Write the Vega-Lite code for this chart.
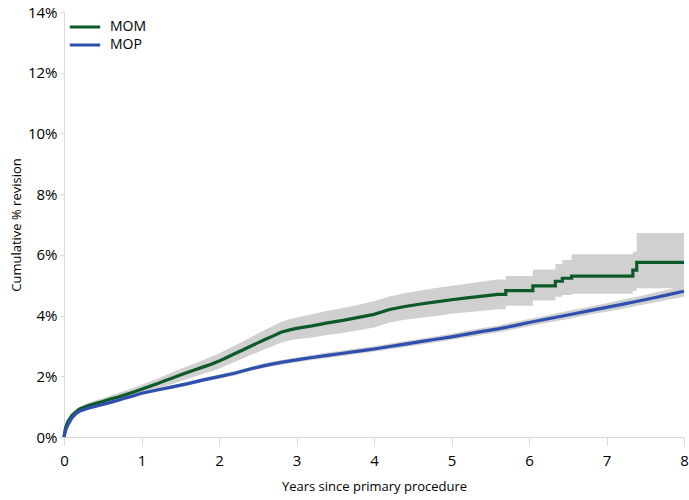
{
  "$schema": "https://vega.github.io/schema/vega-lite/v6.json",
  "width": 620,
  "height": 425,
  "autosize": {"type": "none"},
  "padding": {"left": 64, "top": 12, "right": 5, "bottom": 63},
  "background": "white",
  "config": {"view": {"stroke": null}, "font": "Open Sans"},
  "data": {"values": [
    {"s": "MOM", "i": 0, "t": 0, "v": 0, "lo": 0, "hi": 0},
    {"s": "MOM", "i": 1, "t": 0.02, "v": 0.3, "lo": 0.26, "hi": 0.35},
    {"s": "MOM", "i": 2, "t": 0.05, "v": 0.5, "lo": 0.44, "hi": 0.57},
    {"s": "MOM", "i": 3, "t": 0.1, "v": 0.7, "lo": 0.63, "hi": 0.78},
    {"s": "MOM", "i": 4, "t": 0.15, "v": 0.82, "lo": 0.74, "hi": 0.9},
    {"s": "MOM", "i": 5, "t": 0.2, "v": 0.92, "lo": 0.84, "hi": 1.0},
    {"s": "MOM", "i": 6, "t": 0.3, "v": 1.02, "lo": 0.93, "hi": 1.11},
    {"s": "MOM", "i": 7, "t": 0.4, "v": 1.1, "lo": 1.0, "hi": 1.2},
    {"s": "MOM", "i": 8, "t": 0.5, "v": 1.17, "lo": 1.06, "hi": 1.28},
    {"s": "MOM", "i": 9, "t": 0.6, "v": 1.25, "lo": 1.13, "hi": 1.37},
    {"s": "MOM", "i": 10, "t": 0.7, "v": 1.32, "lo": 1.19, "hi": 1.45},
    {"s": "MOM", "i": 11, "t": 0.8, "v": 1.4, "lo": 1.27, "hi": 1.53},
    {"s": "MOM", "i": 12, "t": 0.9, "v": 1.48, "lo": 1.34, "hi": 1.62},
    {"s": "MOM", "i": 13, "t": 1.0, "v": 1.57, "lo": 1.42, "hi": 1.72},
    {"s": "MOM", "i": 14, "t": 1.1, "v": 1.66, "lo": 1.5, "hi": 1.82},
    {"s": "MOM", "i": 15, "t": 1.2, "v": 1.75, "lo": 1.58, "hi": 1.92},
    {"s": "MOM", "i": 16, "t": 1.3, "v": 1.85, "lo": 1.67, "hi": 2.03},
    {"s": "MOM", "i": 17, "t": 1.4, "v": 1.94, "lo": 1.75, "hi": 2.13},
    {"s": "MOM", "i": 18, "t": 1.5, "v": 2.04, "lo": 1.84, "hi": 2.24},
    {"s": "MOM", "i": 19, "t": 1.6, "v": 2.13, "lo": 1.92, "hi": 2.34},
    {"s": "MOM", "i": 20, "t": 1.7, "v": 2.22, "lo": 2.0, "hi": 2.44},
    {"s": "MOM", "i": 21, "t": 1.8, "v": 2.31, "lo": 2.08, "hi": 2.54},
    {"s": "MOM", "i": 22, "t": 1.9, "v": 2.4, "lo": 2.16, "hi": 2.64},
    {"s": "MOM", "i": 23, "t": 2.0, "v": 2.5, "lo": 2.25, "hi": 2.75},
    {"s": "MOM", "i": 24, "t": 2.1, "v": 2.62, "lo": 2.36, "hi": 2.88},
    {"s": "MOM", "i": 25, "t": 2.2, "v": 2.74, "lo": 2.47, "hi": 3.01},
    {"s": "MOM", "i": 26, "t": 2.3, "v": 2.86, "lo": 2.58, "hi": 3.14},
    {"s": "MOM", "i": 27, "t": 2.4, "v": 2.98, "lo": 2.69, "hi": 3.27},
    {"s": "MOM", "i": 28, "t": 2.5, "v": 3.1, "lo": 2.79, "hi": 3.41},
    {"s": "MOM", "i": 29, "t": 2.6, "v": 3.22, "lo": 2.9, "hi": 3.54},
    {"s": "MOM", "i": 30, "t": 2.7, "v": 3.33, "lo": 3.0, "hi": 3.66},
    {"s": "MOM", "i": 31, "t": 2.8, "v": 3.45, "lo": 3.11, "hi": 3.79},
    {"s": "MOM", "i": 32, "t": 2.9, "v": 3.52, "lo": 3.17, "hi": 3.87},
    {"s": "MOM", "i": 33, "t": 3.0, "v": 3.58, "lo": 3.22, "hi": 3.94},
    {"s": "MOM", "i": 34, "t": 3.2, "v": 3.66, "lo": 3.28, "hi": 4.04},
    {"s": "MOM", "i": 35, "t": 3.4, "v": 3.76, "lo": 3.36, "hi": 4.16},
    {"s": "MOM", "i": 36, "t": 3.6, "v": 3.84, "lo": 3.43, "hi": 4.25},
    {"s": "MOM", "i": 37, "t": 3.8, "v": 3.94, "lo": 3.52, "hi": 4.36},
    {"s": "MOM", "i": 38, "t": 4.0, "v": 4.04, "lo": 3.61, "hi": 4.47},
    {"s": "MOM", "i": 39, "t": 4.2, "v": 4.2, "lo": 3.77, "hi": 4.63},
    {"s": "MOM", "i": 40, "t": 4.4, "v": 4.3, "lo": 3.86, "hi": 4.74},
    {"s": "MOM", "i": 41, "t": 4.6, "v": 4.38, "lo": 3.93, "hi": 4.83},
    {"s": "MOM", "i": 42, "t": 4.8, "v": 4.45, "lo": 3.99, "hi": 4.91},
    {"s": "MOM", "i": 43, "t": 5.0, "v": 4.52, "lo": 4.06, "hi": 4.98},
    {"s": "MOM", "i": 44, "t": 5.2, "v": 4.58, "lo": 4.11, "hi": 5.05},
    {"s": "MOM", "i": 45, "t": 5.4, "v": 4.64, "lo": 4.16, "hi": 5.12},
    {"s": "MOM", "i": 46, "t": 5.6, "v": 4.7, "lo": 4.21, "hi": 5.19},
    {"s": "MOM", "i": 47, "t": 5.7, "v": 4.7, "lo": 4.21, "hi": 5.19},
    {"s": "MOM", "i": 48, "t": 5.7, "v": 4.82, "lo": 4.32, "hi": 5.3},
    {"s": "MOM", "i": 49, "t": 6.05, "v": 4.82, "lo": 4.32, "hi": 5.3},
    {"s": "MOM", "i": 50, "t": 6.05, "v": 4.98, "lo": 4.5, "hi": 5.52},
    {"s": "MOM", "i": 51, "t": 6.34, "v": 4.98, "lo": 4.5, "hi": 5.52},
    {"s": "MOM", "i": 52, "t": 6.34, "v": 5.13, "lo": 4.62, "hi": 5.7},
    {"s": "MOM", "i": 53, "t": 6.43, "v": 5.13, "lo": 4.62, "hi": 5.7},
    {"s": "MOM", "i": 54, "t": 6.43, "v": 5.23, "lo": 4.68, "hi": 5.83},
    {"s": "MOM", "i": 55, "t": 6.55, "v": 5.23, "lo": 4.68, "hi": 5.83},
    {"s": "MOM", "i": 56, "t": 6.55, "v": 5.3, "lo": 4.72, "hi": 6.02},
    {"s": "MOM", "i": 57, "t": 7.34, "v": 5.3, "lo": 4.72, "hi": 6.02},
    {"s": "MOM", "i": 58, "t": 7.34, "v": 5.5, "lo": 4.82, "hi": 6.1},
    {"s": "MOM", "i": 59, "t": 7.39, "v": 5.5, "lo": 4.82, "hi": 6.1},
    {"s": "MOM", "i": 60, "t": 7.39, "v": 5.75, "lo": 4.9, "hi": 6.72},
    {"s": "MOM", "i": 61, "t": 8.0, "v": 5.75, "lo": 4.9, "hi": 6.72},
    {"s": "MOP", "i": 100, "t": 0, "v": 0, "lo": 0, "hi": 0},
    {"s": "MOP", "i": 101, "t": 0.02, "v": 0.22, "lo": 0.2, "hi": 0.24},
    {"s": "MOP", "i": 102, "t": 0.05, "v": 0.4, "lo": 0.37, "hi": 0.43},
    {"s": "MOP", "i": 103, "t": 0.1, "v": 0.62, "lo": 0.59, "hi": 0.65},
    {"s": "MOP", "i": 104, "t": 0.15, "v": 0.76, "lo": 0.73, "hi": 0.79},
    {"s": "MOP", "i": 105, "t": 0.2, "v": 0.85, "lo": 0.82, "hi": 0.88},
    {"s": "MOP", "i": 106, "t": 0.3, "v": 0.94, "lo": 0.9, "hi": 0.98},
    {"s": "MOP", "i": 107, "t": 0.4, "v": 1.01, "lo": 0.97, "hi": 1.05},
    {"s": "MOP", "i": 108, "t": 0.5, "v": 1.07, "lo": 1.03, "hi": 1.11},
    {"s": "MOP", "i": 109, "t": 0.6, "v": 1.14, "lo": 1.1, "hi": 1.18},
    {"s": "MOP", "i": 110, "t": 0.7, "v": 1.21, "lo": 1.16, "hi": 1.26},
    {"s": "MOP", "i": 111, "t": 0.8, "v": 1.29, "lo": 1.24, "hi": 1.34},
    {"s": "MOP", "i": 112, "t": 0.9, "v": 1.36, "lo": 1.31, "hi": 1.41},
    {"s": "MOP", "i": 113, "t": 1.0, "v": 1.44, "lo": 1.38, "hi": 1.5},
    {"s": "MOP", "i": 114, "t": 1.2, "v": 1.55, "lo": 1.49, "hi": 1.61},
    {"s": "MOP", "i": 115, "t": 1.4, "v": 1.65, "lo": 1.59, "hi": 1.71},
    {"s": "MOP", "i": 116, "t": 1.6, "v": 1.76, "lo": 1.7, "hi": 1.82},
    {"s": "MOP", "i": 117, "t": 1.8, "v": 1.88, "lo": 1.81, "hi": 1.95},
    {"s": "MOP", "i": 118, "t": 2.0, "v": 1.99, "lo": 1.92, "hi": 2.06},
    {"s": "MOP", "i": 119, "t": 2.2, "v": 2.1, "lo": 2.03, "hi": 2.17},
    {"s": "MOP", "i": 120, "t": 2.4, "v": 2.24, "lo": 2.17, "hi": 2.31},
    {"s": "MOP", "i": 121, "t": 2.6, "v": 2.36, "lo": 2.28, "hi": 2.44},
    {"s": "MOP", "i": 122, "t": 2.8, "v": 2.46, "lo": 2.38, "hi": 2.54},
    {"s": "MOP", "i": 123, "t": 3.0, "v": 2.54, "lo": 2.46, "hi": 2.62},
    {"s": "MOP", "i": 124, "t": 3.2, "v": 2.62, "lo": 2.54, "hi": 2.7},
    {"s": "MOP", "i": 125, "t": 3.4, "v": 2.69, "lo": 2.6, "hi": 2.78},
    {"s": "MOP", "i": 126, "t": 3.6, "v": 2.76, "lo": 2.67, "hi": 2.85},
    {"s": "MOP", "i": 127, "t": 3.8, "v": 2.83, "lo": 2.74, "hi": 2.92},
    {"s": "MOP", "i": 128, "t": 4.0, "v": 2.9, "lo": 2.81, "hi": 2.99},
    {"s": "MOP", "i": 129, "t": 4.2, "v": 2.98, "lo": 2.89, "hi": 3.07},
    {"s": "MOP", "i": 130, "t": 4.4, "v": 3.06, "lo": 2.96, "hi": 3.16},
    {"s": "MOP", "i": 131, "t": 4.6, "v": 3.14, "lo": 3.04, "hi": 3.24},
    {"s": "MOP", "i": 132, "t": 4.8, "v": 3.22, "lo": 3.12, "hi": 3.32},
    {"s": "MOP", "i": 133, "t": 5.0, "v": 3.3, "lo": 3.2, "hi": 3.4},
    {"s": "MOP", "i": 134, "t": 5.2, "v": 3.39, "lo": 3.28, "hi": 3.5},
    {"s": "MOP", "i": 135, "t": 5.4, "v": 3.48, "lo": 3.37, "hi": 3.59},
    {"s": "MOP", "i": 136, "t": 5.6, "v": 3.56, "lo": 3.45, "hi": 3.67},
    {"s": "MOP", "i": 137, "t": 5.8, "v": 3.66, "lo": 3.54, "hi": 3.78},
    {"s": "MOP", "i": 138, "t": 6.0, "v": 3.77, "lo": 3.65, "hi": 3.89},
    {"s": "MOP", "i": 139, "t": 6.2, "v": 3.87, "lo": 3.75, "hi": 3.99},
    {"s": "MOP", "i": 140, "t": 6.4, "v": 3.97, "lo": 3.84, "hi": 4.1},
    {"s": "MOP", "i": 141, "t": 6.6, "v": 4.07, "lo": 3.94, "hi": 4.2},
    {"s": "MOP", "i": 142, "t": 6.8, "v": 4.17, "lo": 4.04, "hi": 4.3},
    {"s": "MOP", "i": 143, "t": 7.0, "v": 4.27, "lo": 4.13, "hi": 4.41},
    {"s": "MOP", "i": 144, "t": 7.2, "v": 4.37, "lo": 4.22, "hi": 4.52},
    {"s": "MOP", "i": 145, "t": 7.4, "v": 4.47, "lo": 4.32, "hi": 4.62},
    {"s": "MOP", "i": 146, "t": 7.6, "v": 4.58, "lo": 4.42, "hi": 4.74},
    {"s": "MOP", "i": 147, "t": 7.8, "v": 4.69, "lo": 4.52, "hi": 4.86},
    {"s": "MOP", "i": 148, "t": 8.0, "v": 4.8, "lo": 4.62, "hi": 4.98}
  ]},
  "encoding": {
    "x": {
      "field": "t", "type": "quantitative",
      "scale": {"domain": [0, 8], "nice": false, "zero": true},
      "axis": {
        "values": [0, 1, 2, 3, 4, 5, 6, 7, 8], "grid": false,
        "title": "Years since primary procedure",
        "titleFontWeight": "normal", "titleFontSize": 13, "titleColor": "#000", "titlePadding": 12,
        "labelFontSize": 15, "labelColor": "#000", "labelPadding": 8,
        "tickSize": 8, "tickColor": "#d9d9d9", "domainColor": "#d9d9d9", "labelFlush": false
      }
    }
  },
  "layer": [
    {
      "mark": {"type": "area", "color": "#d0d0d0"},
      "encoding": {
        "y": {"field": "lo", "type": "quantitative", "scale": {"domain": [0, 14], "nice": false},
          "axis": {
            "values": [0, 2, 4, 6, 8, 10, 12, 14], "grid": false, "labelExpr": "datum.value + '%'",
            "title": "Cumulative % revision",
            "titleFontWeight": "normal", "titleFontSize": 13, "titleColor": "#000", "titlePadding": 4,
            "labelFontSize": 15, "labelColor": "#000", "labelPadding": 3,
            "tickSize": 4, "tickColor": "#d9d9d9", "domainColor": "#d9d9d9", "labelFlush": false
          }},
        "y2": {"field": "hi"},
        "detail": {"field": "s", "type": "nominal"}
      }
    },
    {
      "mark": {"type": "line", "strokeWidth": 3.2},
      "encoding": {
        "y": {"field": "v", "type": "quantitative"},
        "order": {"field": "i", "type": "quantitative"},
        "color": {
          "field": "s", "type": "nominal",
          "scale": {"domain": ["MOM", "MOP"], "range": ["#0b5a27", "#2d4fae"]},
          "legend": {
            "title": null, "orient": "none", "legendX": 10, "legendY": 4,
            "symbolType": "M-1.6,0H1.6", "symbolSize": 361, "symbolStrokeWidth": 3,
            "labelFontSize": 14, "labelColor": "#000", "labelOffset": 14, "rowPadding": 0
          }
        }
      }
    }
  ]
}
